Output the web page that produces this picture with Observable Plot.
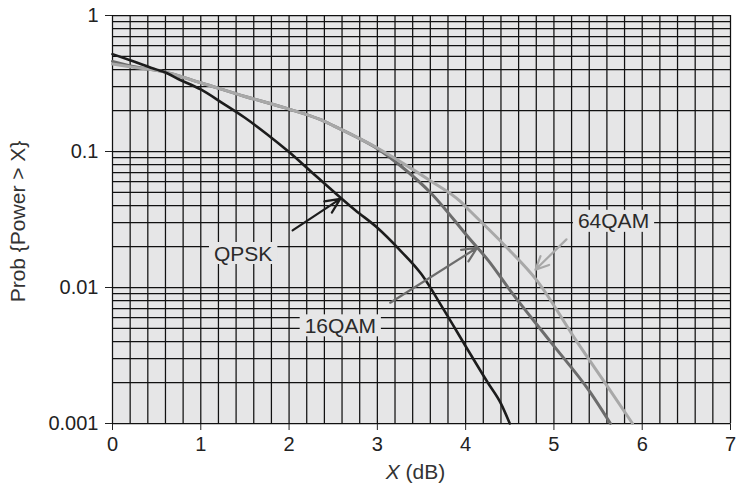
<!DOCTYPE html>
<html>
<head>
<meta charset="utf-8">
<script src="https://cdn.jsdelivr.net/npm/d3@7"></script>
<script src="https://cdn.jsdelivr.net/npm/@observablehq/plot@0.6"></script>
<style>
  html, body { margin: 0; padding: 0; background: #ffffff; }
</style>
</head>
<body>
<script>
// ---- data ----
const qpskX = [0, 0.25, 0.5, 0.58, 0.75, 1.0, 1.25, 1.5, 1.75, 2.0, 2.25, 2.5, 2.75, 3.0, 3.25, 3.5, 3.75, 4.0, 4.25, 4.4, 4.5];
const qpskY = [0.52, 0.457, 0.40, 0.386, 0.34, 0.286, 0.226, 0.177, 0.134, 0.099, 0.071, 0.051, 0.037, 0.0275, 0.019, 0.0125, 0.0069, 0.0037, 0.002, 0.0014, 0.001];

const qam16X = [0, 0.25, 0.58, 1.0, 1.5, 2.0, 2.35, 2.5, 2.75, 3.0, 3.3, 3.6, 4.05, 4.26, 4.51, 4.96, 5.41, 5.64];
const qam16Y = [0.46, 0.42, 0.386, 0.32, 0.254, 0.205, 0.172, 0.155, 0.129, 0.105, 0.075, 0.05, 0.0226, 0.0157, 0.0094, 0.004, 0.0017, 0.001];

const qam64X = [0, 0.25, 0.58, 1.0, 1.5, 2.0, 2.35, 2.5, 2.75, 3.0, 3.25, 3.6, 3.94, 4.05, 4.43, 4.81, 5.26, 5.6, 5.89];
const qam64Y = [0.44, 0.415, 0.386, 0.32, 0.254, 0.205, 0.172, 0.155, 0.129, 0.106, 0.085, 0.061, 0.043, 0.0365, 0.0208, 0.0112, 0.004, 0.0019, 0.001];

const seriesNames = ["QPSK", "16QAM", "64QAM"];
const seriesColors = ["#1c1c1c", "#6c6c6c", "#a8a8a8"];

// annotation labels (data coordinates) and arrows
const labelX = [1.48, 2.58, 5.675];
const labelY = [0.0177, 0.0052, 0.0305];
const arrowX1 = [2.04, 3.146, 5.142];
const arrowY1 = [0.0263, 0.00773, 0.0226];
const arrowX2 = [2.58, 4.13, 4.79];
const arrowY2 = [0.0448, 0.0196, 0.0135];

const xTicks = [0, 1, 2, 3, 4, 5, 6, 7];
const yTicks = [1, 0.1, 0.01, 0.001];
const xGrid = d3.range(0, 7.0001, 0.2);
const yGrid = [1].concat(...[0.001, 0.01, 0.1].map(d => d3.range(1, 10).map(k => +(k * d).toPrecision(3))));

const xLabel = "X (dB)";
const yLabel = "Prob {Power > X}";

// ---- build tables ----
const curves = [
  ...qpskX.map((x, i) => ({series: "QPSK", x, y: qpskY[i]})),
  ...qam16X.map((x, i) => ({series: "16QAM", x, y: qam16Y[i]})),
  ...qam64X.map((x, i) => ({series: "64QAM", x, y: qam64Y[i]}))
];
const labels = seriesNames.map((name, i) => ({name, x: labelX[i], y: labelY[i]}));
const arrows = seriesNames.map((name, i) => ({name, x1: arrowX1[i], y1: arrowY1[i], x2: arrowX2[i], y2: arrowY2[i]}));

const bg = "#e6e6e7";
const color = {domain: seriesNames, range: seriesColors};

const chart = Plot.plot({
  width: 754,
  height: 488,
  marginLeft: 112,
  marginRight: 24,
  marginTop: 15,
  marginBottom: 65,
  style: {fontFamily: "'Liberation Sans', Arial, sans-serif", fontSize: "20px", color: "#222", background: "#ffffff"},
  color,
  x: {domain: [0, 7], ticks: xTicks, tickFormat: d => String(d), tickSize: 7, tickPadding: 6, label: null},
  y: {type: "log", domain: [0.001, 1], ticks: yTicks, tickFormat: d => String(d), tickSize: 7, tickPadding: 7, label: null},
  marks: [
    Plot.frame({fill: bg, stroke: null}),
    Plot.ruleX(xGrid, {stroke: "#111", strokeWidth: 1.25, strokeOpacity: 1}),
    Plot.ruleY(yGrid, {stroke: "#111", strokeWidth: 1.25, strokeOpacity: 1}),
    Plot.line(curves.filter(d => d.series === "16QAM"), {x: "x", y: "y", stroke: "series", strokeWidth: 3, curve: "monotone-x"}),
    Plot.line(curves.filter(d => d.series === "64QAM"), {x: "x", y: "y", stroke: "series", strokeWidth: 3, curve: "monotone-x"}),
    Plot.line(curves.filter(d => d.series === "QPSK"), {x: "x", y: "y", stroke: "series", strokeWidth: 2.6, curve: "monotone-x"}),
    Plot.arrow(arrows, {x1: "x1", y1: "y1", x2: "x2", y2: "y2", stroke: "name", strokeWidth: 2.2, headLength: 11, headAngle: 50}),
    Plot.text(labels, {x: "x", y: "y", text: "name", fill: "#2a2a2a", fontSize: 21}),
    Plot.text([yLabel], {frameAnchor: "left", textAnchor: "middle", lineAnchor: "middle", rotate: -90, dx: -94, dy: 2, fill: "#333", fontSize: 21}),
    Plot.text([xLabel], {frameAnchor: "bottom", textAnchor: "middle", lineAnchor: "middle", dx: -6, dy: 49, fill: "#333", fontSize: 21})
  ]
});

document.body.appendChild(chart);

// label background boxes and italic X in the x-axis title
const ns = "http://www.w3.org/2000/svg";
chart.querySelectorAll("text").forEach(t => {
  const s = t.textContent;
  if (seriesNames.includes(s)) {
    const b = t.getBBox();
    const r = document.createElementNS(ns, "rect");
    r.setAttribute("x", b.x - 5);
    r.setAttribute("y", b.y + 0.5);
    r.setAttribute("width", b.width + 10);
    r.setAttribute("height", b.height - 1);
    r.setAttribute("fill", bg);
    if (t.getAttribute("transform")) r.setAttribute("transform", t.getAttribute("transform"));
    t.parentNode.insertBefore(r, t);
  } else if (s === xLabel) {
    t.textContent = "";
    const a = document.createElementNS(ns, "tspan");
    a.setAttribute("font-style", "italic");
    a.textContent = "X";
    const b = document.createElementNS(ns, "tspan");
    b.textContent = " (dB)";
    t.appendChild(a);
    t.appendChild(b);
  }
});
</script>
</body>
</html>
